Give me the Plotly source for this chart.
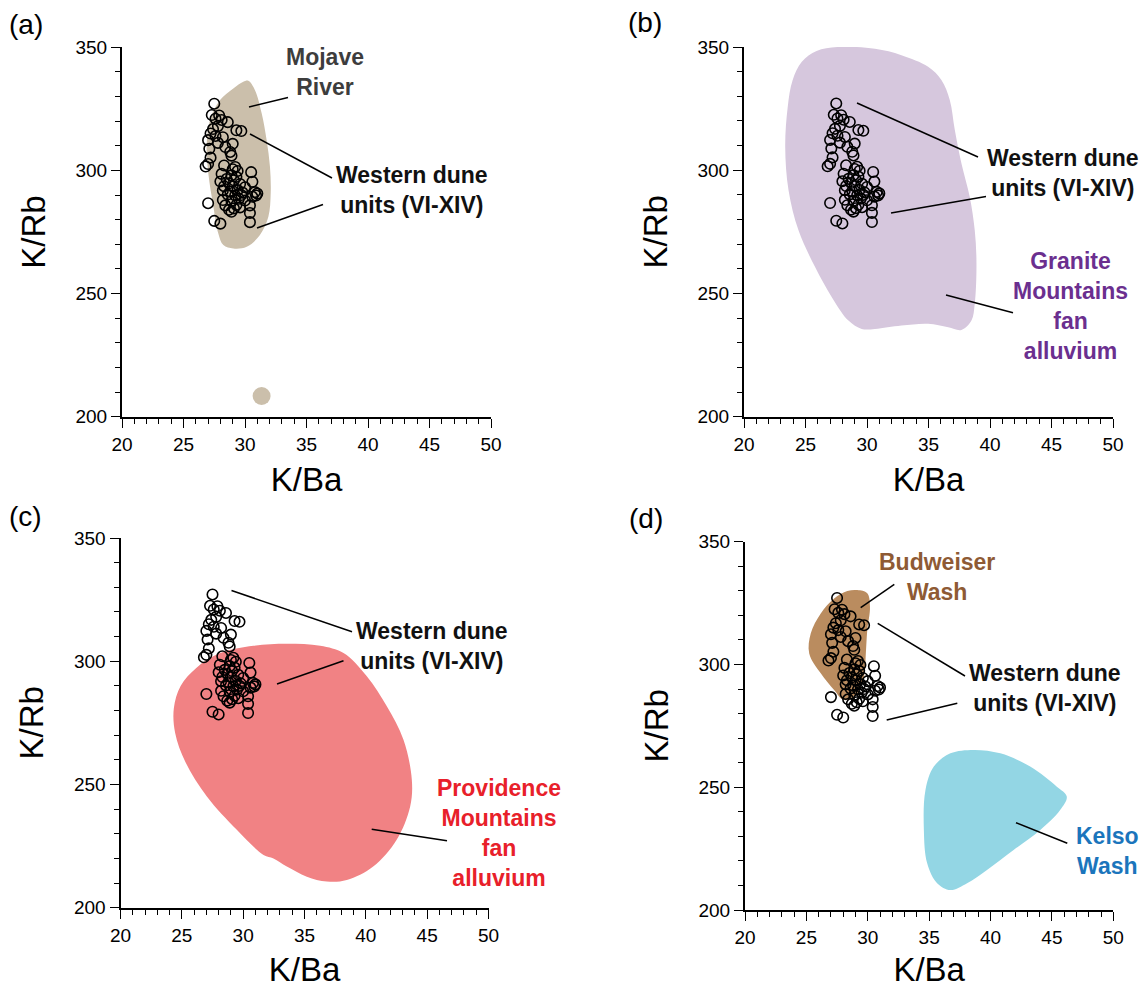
import plotly.graph_objects as go

W, H = 1148, 988
FONT = "Liberation Sans, Arial, Helvetica, sans-serif"

# ---------------- data ----------------
# Western dune units (VI-XIV): K/Ba and K/Rb
dune_k_ba = [27.5, 27.3, 27.9, 27.6, 28.1, 28.6, 27.8, 29.3, 29.7, 27.4,
             27.2, 27.6, 28.2, 27.0, 27.8, 29.0, 28.4, 27.1, 28.8, 28.9,
             27.2, 27.0, 26.8,
             28.3, 29.2, 29.0, 29.4, 30.5, 28.1, 28.9, 29.3, 28.5, 29.1,
             30.6, 28.7, 29.6, 28.3, 29.0, 30.0, 28.2, 28.8, 29.4, 29.8,
             30.8, 31.0, 28.6, 29.2, 30.6, 30.9, 28.2, 29.5, 28.9, 30.0,
             27.0, 28.4, 29.3, 30.4, 28.7, 29.1, 29.6, 28.9, 30.4, 27.5,
             28.0, 30.4, 29.7, 28.0]
dune_k_rb = [327.1, 322.5, 322.3, 321.0, 320.5, 319.6, 318.0, 316.3, 316.0, 316.8,
             315.0, 314.0, 313.5, 312.3, 311.2, 310.8, 309.5, 308.8, 307.5, 306.0,
             305.2, 302.6, 301.6,
             302.0, 301.4, 300.5, 299.8, 299.3, 298.6, 298.0, 297.4, 296.5, 296.0,
             295.4, 294.8, 294.5, 293.6, 293.5, 293.2, 291.9, 291.5, 292.0, 291.0,
             291.2, 290.6, 290.2, 289.8, 289.3, 289.8, 288.0, 288.5, 287.6, 287.8,
             286.7, 285.8, 286.0, 285.8, 284.0, 284.6, 285.0, 283.2, 282.7, 279.5,
             278.4, 279.0, 290.0, 295.5]

# Mojave River field outline + single sample
mojave_k_ba = [30.27, 30.81, 31.36, 31.76, 32.03, 32.09, 31.9, 31.2, 30.14, 29.05,
               28.24, 27.83, 27.43, 27.02, 26.88, 27.15, 27.97, 29.05, 29.86]
mojave_k_rb = [336.4, 332.6, 323.1, 312.3, 301.5, 290.7, 281.2, 273.7, 269.0, 268.3,
               269.7, 274.4, 285.3, 298.8, 309.6, 320.4, 328.6, 333.3, 336.0]
mojave_dot_k_ba = [31.35]
mojave_dot_k_rb = [208.4]

# Granite Mountains fan alluvium outline
granite_k_ba = [24.7, 25.9, 27.6, 30.65, 32.8, 34.97, 36.05, 36.73, 37.14, 37.68,
                38.35, 38.76, 38.9, 38.76, 38.49, 37.68, 36.6, 34.97, 32.8, 30.65,
                29.57, 28.49, 27.14, 25.78, 24.43, 23.62, 23.35, 23.55, 23.95]
granite_k_rb = [344.0, 348.4, 350.0, 349.3, 346.7, 342.0, 336.6, 328.5, 316.3, 302.7,
                289.2, 275.6, 262.1, 245.8, 239.0, 235.2, 236.3, 237.7, 237.0, 235.6,
                235.6, 239.0, 248.5, 260.7, 275.6, 291.9, 309.5, 325.5, 336.5]

# Providence Mountains fan alluvium outline
providence_k_ba = [24.35, 24.9, 26.2, 28.12, 30.84, 33.56, 36.28, 38.18, 40.08, 41.71,
                   43.07, 43.75, 43.61, 42.5, 40.6, 38.45, 36.82, 35.19, 33.56, 32.47,
                   31.66, 29.48, 27.04, 25.3, 24.45]
providence_k_rb = [281.0, 290.0, 297.4, 303.3, 306.3, 307.1, 306.3, 303.3, 293.9, 281.7,
                   268.1, 251.9, 241.0, 227.5, 216.7, 211.2, 210.6, 212.6, 216.7, 220.0,
                   221.4, 231.6, 245.1, 259.0, 271.0]

# Budweiser Wash outline
budweiser_k_ba = [29.15, 29.96, 30.18, 29.96, 29.83, 29.7, 29.15, 28.07, 27.26, 26.17,
                  25.23, 25.36, 26.17, 27.26, 28.34]
budweiser_k_rb = [330.3, 329.0, 323.5, 314.0, 303.2, 295.0, 288.2, 285.5, 289.6, 296.4,
                  304.5, 312.7, 320.8, 326.9, 329.9]

# Kelso Wash outline
kelso_k_ba = [38.63, 40.8, 43.23, 45.4, 46.21, 45.67, 44.05, 41.88, 39.71, 38.09,
              36.73, 35.65, 34.84, 34.57, 34.7, 35.38, 36.73]
kelso_k_rb = [265.2, 263.8, 258.4, 250.2, 246.2, 240.7, 232.6, 224.4, 216.3, 210.9,
              208.1, 210.9, 219.0, 232.6, 248.9, 258.4, 263.8]

x_tick_vals = [20, 25, 30, 35, 40, 45, 50]
y_tick_vals = [200, 250, 300, 350]

# ---------------- helpers ----------------
def px_x(p):
    return p / W


def px_y(p):
    return 1 - p / H


def closed(a):
    return list(a) + [a[0]]


fig = go.Figure()

# panel geometry in pixels: (x_left, x_right), (y_top, y_bottom)
panels = [
    ("a", (122, 491), (47.3, 416.7)),
    ("b", (744, 1113), (47.0, 416.7)),
    ("c", (120.5, 488.5), (538.0, 907.7)),
    ("d", (745, 1113.3), (541.7, 910.0)),
]

fields = {
    "a": [(mojave_k_ba, mojave_k_rb, "#cbbfab")],
    "b": [(granite_k_ba, granite_k_rb, "#d6c7dd")],
    "c": [(providence_k_ba, providence_k_rb, "#f18284")],
    "d": [(budweiser_k_ba, budweiser_k_rb, "#ba8c5f"),
          (kelso_k_ba, kelso_k_rb, "#93d6e4")],
}

layout_axes = {}
for i, (name, (x0, x1), (y0, y1)) in enumerate(panels, start=1):
    sx = "" if i == 1 else str(i)
    xref, yref = "x" + sx, "y" + sx
    for fx, fy, col in fields[name]:
        fig.add_trace(go.Scatter(
            x=closed(fx), y=closed(fy), mode="lines", fill="toself",
            fillcolor=col, line=dict(width=0, color=col, shape="spline", smoothing=1.0),
            hoverinfo="skip", showlegend=False, xaxis=xref, yaxis=yref))
    if name == "a":
        fig.add_trace(go.Scatter(
            x=mojave_dot_k_ba, y=mojave_dot_k_rb, mode="markers",
            marker=dict(size=18, color="#cbbfab"), showlegend=False,
            xaxis=xref, yaxis=yref))
    fig.add_trace(go.Scatter(
        x=dune_k_ba, y=dune_k_rb, mode="markers",
        marker=dict(symbol="circle-open", size=10.5, color="black",
                    line=dict(width=1.6, color="black")),
        showlegend=False, xaxis=xref, yaxis=yref))

    common = dict(
        showline=True, linewidth=2, linecolor="black", mirror=False,
        ticks="outside", ticklen=9, tickwidth=1.3, tickcolor="black",
        showgrid=False, zeroline=False, fixedrange=True, automargin=False,
        tickfont=dict(family=FONT, size=19, color="black"),
    )
    layout_axes["xaxis" + sx] = dict(
        common, domain=[px_x(x0), px_x(x1)], range=[20, 50], anchor=yref,
        tickmode="array", tickvals=x_tick_vals,
        minor=dict(tickmode="linear", tick0=20, dtick=1, ticks="outside",
                   ticklen=5, tickwidth=1, tickcolor="black", showgrid=False),
        title=dict(text="K/Ba", font=dict(family=FONT, size=33, color="black"), standoff=14),
    )
    layout_axes["yaxis" + sx] = dict(
        common, domain=[px_y(y1), px_y(y0)], range=[200, 350], anchor=xref,
        tickmode="array", tickvals=y_tick_vals,
        minor=dict(tickmode="linear", tick0=200, dtick=10, ticks="outside",
                   ticklen=5, tickwidth=1, tickcolor="black", showgrid=False),
        title=dict(text="K/Rb", font=dict(family=FONT, size=33, color="black"), standoff=20),
    )

# ---------------- annotations ----------------
annotations = []
shapes = []


def label(text, cx, cy, color, size=23, bold=True):
    annotations.append(dict(
        text=("<b>%s</b>" % text) if bold else text,
        x=px_x(cx), y=px_y(cy), xref="paper", yref="paper",
        xanchor="center", yanchor="middle", showarrow=False, align="center",
        font=dict(family=FONT, size=size, color=color)))


def leader(xa, ya, xb, yb):
    shapes.append(dict(type="line", xref="paper", yref="paper",
                       x0=px_x(xa), y0=px_y(ya), x1=px_x(xb), y1=px_y(yb),
                       line=dict(color="black", width=1.5)))


# panel letters
label("(a)", 26, 24, "black", size=28, bold=False)
label("(b)", 645, 22, "black", size=28, bold=False)
label("(c)", 25, 516, "black", size=28, bold=False)
label("(d)", 646, 518, "black", size=28, bold=False)

DUNE = "Western dune<br>units (VI-XIV)"

# (a)
label("Mojave<br>River", 325, 72, "#3d3d3d")
leader(288, 97.5, 249, 107)
label(DUNE, 411.5, 190, "#111111")
leader(332, 178, 250, 134)
leader(323, 204.5, 257, 228)

# (b)
label(DUNE, 1063, 173, "#111111")
leader(978, 157, 857, 103)
leader(986, 196.5, 891, 213)
label("Granite<br>Mountains<br>fan<br>alluvium", 1070, 305.5, "#6b2f8f")
leader(1013, 312.7, 946, 295)

# (c)
label(DUNE, 431.5, 646, "#111111")
leader(352, 631.7, 231.5, 590.5)
leader(343.5, 660.7, 277, 684)
label("Providence<br>Mountains<br>fan<br>alluvium", 499, 833, "#e8202a")
leader(447, 840.7, 371.7, 829.3)

# (d)
label("Budweiser<br>Wash", 936.7, 577, "#8e5a34")
leader(894.3, 584.3, 860.7, 607.7)
label(DUNE, 1045, 688, "#111111")
leader(965, 676, 877.7, 623.3)
leader(957.3, 703.3, 886.7, 720)
label("Kelso<br>Wash", 1107, 851, "#1b75bc")
leader(1067.3, 843.3, 1016, 822.7)

fig.update_layout(
    template="none",
    width=W, height=H,
    margin=dict(l=0, r=0, t=0, b=0, pad=0),
    paper_bgcolor="white", plot_bgcolor="rgba(0,0,0,0)",
    showlegend=False,
    font=dict(family=FONT, color="black"),
    annotations=annotations, shapes=shapes,
    **layout_axes,
)

fig.write_html("out.html",
               config=dict(displayModeBar=False),
               post_script="document.body.style.margin='0px';"
                           "document.body.style.overflow='hidden';")
